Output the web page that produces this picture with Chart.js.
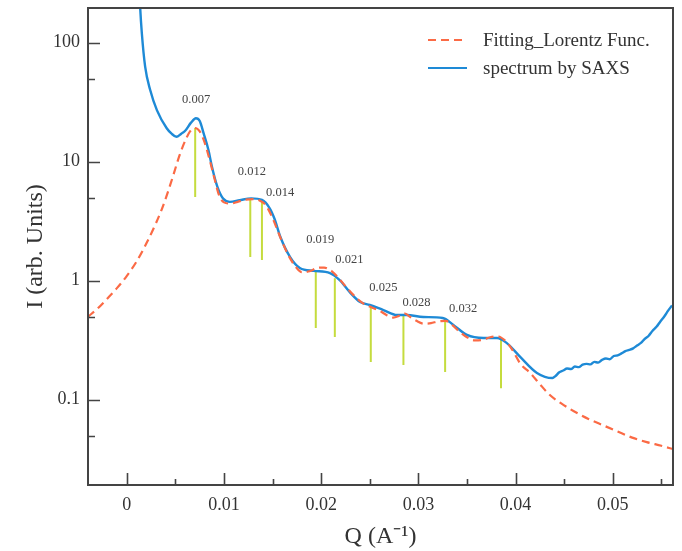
<!DOCTYPE html>
<html>
<head>
<meta charset="utf-8">
<script src="https://cdn.jsdelivr.net/npm/chart.js@4.4.1/dist/chart.umd.min.js"></script>
<style>
    html, body { margin: 0; padding: 0; background: #fff; }
    #caixa { width: 682px; height: 551px; }
</style>
</head>
<body>
<div id="caixa"><canvas id="grafico"></canvas></div>
<script>
// curva medida (SAXS)
const qSaxs = [0.0013, 0.00137, 0.00154, 0.00188, 0.0024, 0.0031, 0.0041, 0.0046, 0.0051, 0.0056, 0.006, 0.0066, 0.0071, 0.0075, 0.0079, 0.0084, 0.00875, 0.0093, 0.0099, 0.0106, 0.0116, 0.0128, 0.0139, 0.0147, 0.0152, 0.0158, 0.0168, 0.0178, 0.0192, 0.0209, 0.0219, 0.023, 0.024, 0.025, 0.0264, 0.0278, 0.0288, 0.0305, 0.0325, 0.0336, 0.035, 0.0367, 0.0381, 0.0391, 0.0405, 0.0422, 0.0438, 0.0441, 0.0445, 0.0449, 0.0453, 0.0457, 0.0461, 0.0465, 0.0469, 0.0473, 0.0477, 0.0481, 0.0485, 0.0489, 0.0493, 0.0497, 0.0501, 0.0505, 0.0509, 0.0513, 0.0517, 0.0521, 0.0525, 0.0529, 0.0533, 0.0537, 0.0541, 0.0545, 0.0549, 0.0553, 0.0557, 0.0561];
const iSaxs = [260, 196, 120, 63, 40, 27, 19.1, 17.2, 16.2, 17.2, 18.2, 21.3, 23.2, 22, 17.3, 12.5, 9.1, 6.2, 4.9, 4.6, 4.75, 4.92, 4.77, 4.06, 3.3, 2.33, 1.58, 1.28, 1.21, 1.16, 1.01, 0.79, 0.662, 0.625, 0.567, 0.515, 0.515, 0.495, 0.486, 0.425, 0.35, 0.33, 0.33, 0.299, 0.228, 0.168, 0.152, 0.158, 0.17, 0.176, 0.183, 0.181, 0.19, 0.188, 0.197, 0.2, 0.198, 0.208, 0.205, 0.216, 0.222, 0.219, 0.233, 0.236, 0.245, 0.256, 0.262, 0.27, 0.285, 0.3, 0.325, 0.345, 0.38, 0.41, 0.455, 0.5, 0.56, 0.62];

// ajuste Lorentz
const qFit = [-0.004, -0.003, -0.002, -0.001, 0, 0.001, 0.002, 0.003, 0.0036, 0.0042, 0.0048, 0.0054, 0.006, 0.0065, 0.007, 0.0075, 0.008, 0.0085, 0.009, 0.0095, 0.01, 0.0106, 0.0114, 0.0122, 0.013, 0.0137, 0.0143, 0.015, 0.0158, 0.0166, 0.0174, 0.018, 0.0188, 0.0196, 0.0203, 0.0211, 0.0218, 0.0225, 0.0233, 0.0242, 0.0251, 0.026, 0.0268, 0.0274, 0.0281, 0.0286, 0.0291, 0.0298, 0.0306, 0.0313, 0.032, 0.0328, 0.0334, 0.0342, 0.035, 0.0358, 0.0366, 0.0374, 0.0382, 0.0389, 0.0396, 0.0405, 0.0415, 0.0425, 0.0435, 0.0447, 0.046, 0.0475, 0.049, 0.0505, 0.052, 0.0535, 0.055, 0.0562];
const iFit = [0.498, 0.585, 0.71, 0.87, 1.1, 1.45, 2.05, 3.05, 4.0, 5.5, 7.8, 11.2, 15.0, 18.0, 19.2, 18.0, 14.5, 10.5, 7.3, 5.2, 4.55, 4.45, 4.6, 4.8, 4.85, 4.7, 4.3, 3.35, 2.3, 1.65, 1.3, 1.18, 1.2, 1.28, 1.29, 1.2, 1.05, 0.9, 0.76, 0.655, 0.6, 0.56, 0.51, 0.49, 0.51, 0.53, 0.5, 0.46, 0.435, 0.44, 0.455, 0.46, 0.43, 0.375, 0.335, 0.315, 0.318, 0.335, 0.34, 0.315, 0.268, 0.2, 0.168, 0.135, 0.11, 0.093, 0.08, 0.069, 0.061, 0.054, 0.048, 0.044, 0.041, 0.0385];

// marcas dos picos
const qPicos = [0.00703, 0.0127, 0.0139, 0.01944, 0.0214, 0.0251, 0.02846, 0.03275, 0.0385];
const topoPicos = [19.2, 4.77, 4.58, 1.23, 1.05, 0.6, 0.525, 0.45, 0.33];
const basePicos = [5.05, 1.58, 1.49, 0.4, 0.337, 0.207, 0.196, 0.171, 0.125];

const rotulosPicos = ["0.007", "0.012", "0.014", "0.019", "0.021", "0.025", "0.028", "0.032"];
const qRotulos = [0.00713, 0.01286, 0.01577, 0.0199, 0.0229, 0.0264, 0.0298, 0.0346];
const iRotulos = [33, 8.2, 5.46, 2.2, 1.49, 0.868, 0.65, 0.578];

const ticksX = [0, 0.01, 0.02, 0.03, 0.04, 0.05];
const ticksXMenores = [0.005, 0.015, 0.025, 0.035, 0.045, 0.055];
const ticksY = [0.1, 1, 10, 100];
const ticksYMenores = [0.05, 0.5, 5, 50];

const legendas = ["Fitting_Lorentz Func.", "spectrum by SAXS"];

const FONTE = "'Liberation Serif', 'Times New Roman', serif";
const COR_SAXS = "#1e8ad6";
const COR_FIT = "#fb6a45";
const COR_PICO = "#c5dc3e";
const COR_EIXO = "#444";

function pares(qs, is) {
    return qs.map((q, i) => ({ x: q, y: is[i] }));
}

function dadosPicos() {
    const dados = [];
    qPicos.forEach((q, i) => {
        dados.push({ x: q, y: topoPicos[i] }, { x: q, y: basePicos[i] }, { x: q, y: null });
    });
    return dados;
}

const molduraETicks = {
    id: "molduraETicks",
    afterDatasetsDraw(chart) {
        const { ctx, chartArea: area, scales } = chart;
        const x = scales.x;
        const y = scales.y;
        ctx.save();

        // rotulos dos picos
        ctx.fillStyle = "#444";
        ctx.font = "12.5px " + FONTE;
        ctx.textAlign = "center";
        ctx.textBaseline = "middle";
        rotulosPicos.forEach((texto, i) => {
            ctx.fillText(texto, x.getPixelForValue(qRotulos[i]), y.getPixelForValue(iRotulos[i]));
        });

        ctx.strokeStyle = COR_EIXO;
        ctx.lineWidth = 2;
        ctx.strokeRect(area.left, area.top, area.right - area.left, area.bottom - area.top);

        ctx.lineWidth = 1.6;
        ctx.beginPath();
        ticksY.concat(ticksYMenores).forEach(v => {
            const py = Math.round(y.getPixelForValue(v)) + 0.5;
            const tam = ticksY.includes(v) ? 12 : 7;
            ctx.moveTo(area.left, py);
            ctx.lineTo(area.left + tam, py);
        });
        ticksX.concat(ticksXMenores).forEach(v => {
            const px = Math.round(x.getPixelForValue(v)) + 0.5;
            const tam = ticksX.includes(v) ? 12 : 6;
            ctx.moveTo(px, area.bottom);
            ctx.lineTo(px, area.bottom - tam);
        });
        ctx.stroke();

        // legenda
        const estilos = [
            { cor: COR_FIT, tracejado: [8, 5] },
            { cor: COR_SAXS, tracejado: [] }
        ];
        ctx.font = "19px " + FONTE;
        ctx.textAlign = "left";
        ctx.fillStyle = "#333";
        legendas.forEach((texto, i) => {
            const ly = 40 + i * 28;
            ctx.strokeStyle = estilos[i].cor;
            ctx.lineWidth = 2.2;
            ctx.setLineDash(estilos[i].tracejado);
            ctx.beginPath();
            ctx.moveTo(428, ly);
            ctx.lineTo(467, ly);
            ctx.stroke();
            ctx.setLineDash([]);
            ctx.fillText(texto, 483, ly + 1);
        });
        ctx.restore();
    }
};

new Chart(document.getElementById("grafico"), {
    type: "line",
    data: {
        datasets: [
            {
                label: legendas[0],
                data: pares(qFit, iFit),
                borderColor: COR_FIT,
                borderWidth: 2.2,
                borderDash: [8, 5],
                pointRadius: 0,
                cubicInterpolationMode: "monotone"
            },
            {
                label: legendas[1],
                data: pares(qSaxs, iSaxs),
                borderColor: COR_SAXS,
                borderWidth: 2.4,
                pointRadius: 0,
                cubicInterpolationMode: "monotone"
            },
            {
                label: "picos",
                data: dadosPicos(),
                borderColor: COR_PICO,
                borderWidth: 2,
                pointRadius: 0,
                spanGaps: false
            }
        ]
    },
    options: {
        responsive: true,
        maintainAspectRatio: false,
        animation: false,
        layout: { padding: { top: 8, right: 9, left: 0, bottom: 0 } },
        plugins: {
            legend: { display: false },
            tooltip: { enabled: false }
        },
        scales: {
            x: {
                type: "linear",
                min: -0.004,
                max: 0.0562,
                afterFit: escala => {
                    escala.height = 66;
                    escala.paddingLeft = 0;
                    escala.paddingRight = 0;
                },
                afterBuildTicks: escala => { escala.ticks = ticksX.map(v => ({ value: v })); },
                grid: { display: false, drawTicks: false },
                border: { display: false },
                ticks: {
                    color: "#333",
                    padding: 9,
                    maxRotation: 0,
                    font: { family: FONTE, size: 18 },
                    callback: v => String(v)
                },
                title: {
                    display: true,
                    text: "Q (A\u207B\u00B9)",
                    color: "#333",
                    padding: { top: 0, bottom: 0 },
                    font: { family: FONTE, size: 24 }
                }
            },
            y: {
                type: "logarithmic",
                min: 0.0192,
                max: 195.7,
                afterFit: escala => {
                    escala.width = 88;
                    escala.paddingTop = 0;
                    escala.paddingBottom = 0;
                },
                afterBuildTicks: escala => { escala.ticks = ticksY.map(v => ({ value: v })); },
                grid: { display: false, drawTicks: false },
                border: { display: false },
                ticks: {
                    color: "#333",
                    padding: 8,
                    font: { family: FONTE, size: 18 },
                    callback: v => String(v)
                },
                title: {
                    display: true,
                    text: "I (arb. Units)",
                    color: "#333",
                    padding: { top: 21, bottom: 0 },
                    font: { family: FONTE, size: 24 }
                }
            }
        }
    },
    plugins: [molduraETicks]
});
</script>
</body>
</html>
